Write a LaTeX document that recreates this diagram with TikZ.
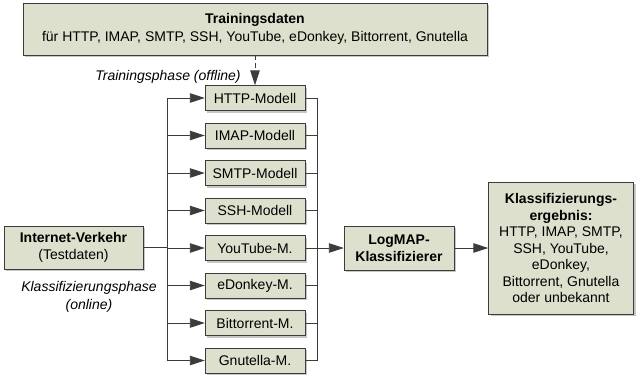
\documentclass[tikz,border=0pt]{standalone}
\usepackage{fontspec}
\setmainfont{Liberation Sans}
\usetikzlibrary{arrows.meta,shadows}

\definecolor{boxfill}{RGB}{221,224,204}
\definecolor{boxline}{RGB}{60,60,60}

\begin{document}
\begin{tikzpicture}
[x=1pt,y=-1pt,
box/.style={rectangle,draw=boxline,fill=boxfill,thin,inner sep=2pt,align=center,font=\fontsize{14pt}{16.5pt}\selectfont,drop shadow={shadow xshift=2pt,shadow yshift=-2pt,fill=black!22,opacity=1}},
model/.style={box,minimum width=100pt,minimum height=25pt},
wire/.style={draw=boxline,line width=0.9pt},
flow/.style={wire,-{Triangle[length=15pt,width=9.5pt]}},
phase/.style={font=\fontsize{14pt}{18pt}\selectfont\itshape,align=center}]

\useasboundingbox (0,0) rectangle (636,378);

\node[box,minimum width=464pt,minimum height=52pt] (daten) at (255,29) {\textbf{Trainingsdaten}\\[2pt]für HTTP, IMAP, SMTP, SSH, YouTube, eDonkey, Bittorrent, Gnutella};
\node[phase] (offline) at (168,77) {Trainingsphase (offline)};

% models
\node[model] (http) at (255,98) {HTTP-Modell};
\node[model] (imap) at (255,135.5) {IMAP-Modell};
\node[model] (smtp) at (255,173) {SMTP-Modell};
\node[model] (ssh) at (255,210.5) {SSH-Modell};
\node[model] (youtube) at (255,248) {YouTube-M.};
\node[model] (edonkey) at (255,285.5) {eDonkey-M.};
\node[model] (bittorrent) at (255,323) {Bittorrent-M.};
\node[model] (gnutella) at (255,360.5) {Gnutella-M.};

\coordinate (lbus) at (167,0);
\coordinate (rbus) at (317,0);

\node[box,minimum width=139pt,minimum height=43pt] (verkehr) at (73.5,247.5) {\textbf{Internet-Verkehr}\\(Testdaten)};
\node[phase] (online) at (89,297) {Klassifizierungsphase\\(online)};
\node[box,minimum width=110pt,minimum height=44pt] (logmap) at (399,248) {\textbf{LogMAP-}\\\textbf{Klassifizierer}};
\node[box,minimum width=145pt,minimum height=132pt] (ergebnis) at (561,248) {\textbf{Klassifizierungs-}\\\textbf{ergebnis:}\\HTTP, IMAP, SMTP,\\SSH, YouTube,\\eDonkey,\\Bittorrent, Gnutella\\oder unbekannt};

% training
\draw[flow,dash pattern=on 5pt off 3pt] (daten) -- (http);

% left bus
\draw[wire] (verkehr.east) -- (verkehr.east -| lbus);
\draw[wire] (http.west -| lbus) -- (gnutella.west -| lbus);
\draw[flow] (http.west -| lbus) -- (http.west);
\draw[flow] (imap.west -| lbus) -- (imap.west);
\draw[flow] (smtp.west -| lbus) -- (smtp.west);
\draw[flow] (ssh.west -| lbus) -- (ssh.west);
\draw[flow] (youtube.west -| lbus) -- (youtube.west);
\draw[flow] (edonkey.west -| lbus) -- (edonkey.west);
\draw[flow] (bittorrent.west -| lbus) -- (bittorrent.west);
\draw[flow] (gnutella.west -| lbus) -- (gnutella.west);

% right bus
\draw[wire] (http.east) -- (http.east -| rbus) -- (gnutella.east -| rbus) -- (gnutella.east);
\draw[wire] (imap.east) -- (imap.east -| rbus);
\draw[wire] (smtp.east) -- (smtp.east -| rbus);
\draw[wire] (ssh.east) -- (ssh.east -| rbus);
\draw[wire] (youtube.east) -- (youtube.east -| rbus);
\draw[wire] (edonkey.east) -- (edonkey.east -| rbus);
\draw[wire] (bittorrent.east) -- (bittorrent.east -| rbus);
\draw[flow] (logmap.west -| rbus) -- (logmap.west);
\draw[flow] (logmap) -- (ergebnis);

\end{tikzpicture}
\end{document}
